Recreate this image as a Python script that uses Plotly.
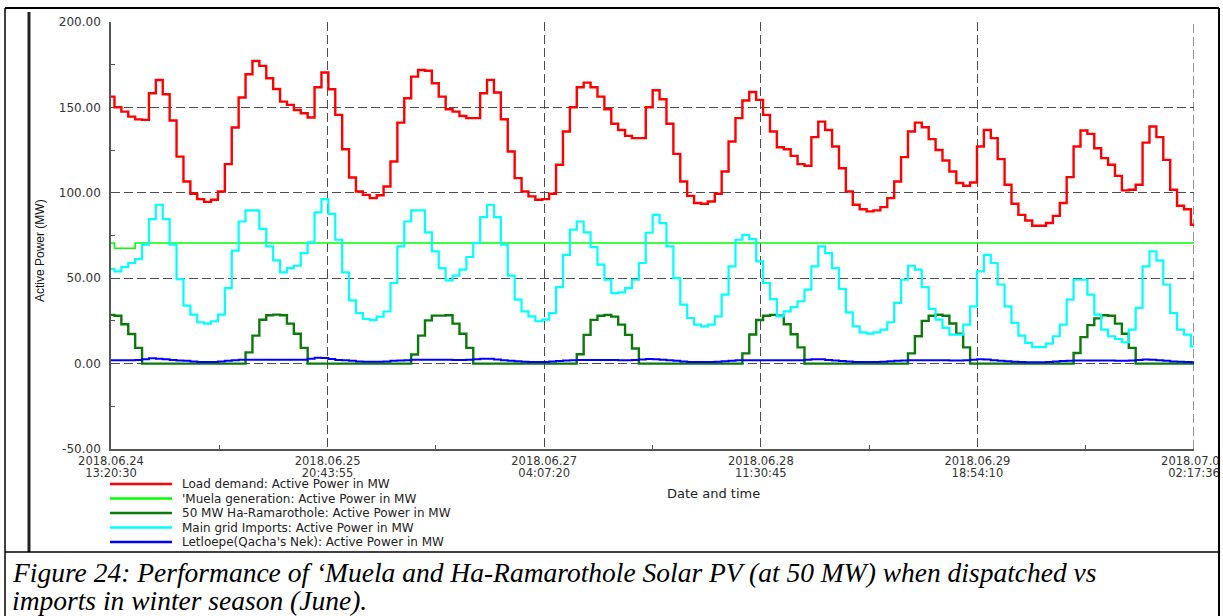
import pandas as pd
import plotly.graph_objects as go

# ---------------------------------------------------------------
# Hourly simulation results, first sample at 2018-06-24 13:20:30
# (one row per day of 24 hourly samples)
# ---------------------------------------------------------------
load_demand = [
    156.3, 150.1, 147.5, 144.6, 143.0, 142.7, 158.3, 166.0, 157.7, 142.3, 121.2, 106.6,
    99.4, 96.3, 94.7, 95.9, 100.8, 116.8, 138.2, 155.8, 169.4, 177.2, 174.3, 167.1,
    160.8, 153.4, 151.5, 148.5, 146.6, 144.1, 161.8, 170.4, 160.6, 145.6, 125.5, 109.0,
    100.8, 98.8, 96.9, 98.6, 103.7, 118.3, 141.1, 155.4, 168.0, 171.9, 171.5, 164.1,
    156.3, 148.9, 147.5, 145.0, 143.7, 143.7, 158.3, 166.1, 158.7, 143.1, 124.2, 108.6,
    100.8, 97.9, 95.9, 96.3, 99.4, 116.4, 135.9, 150.1, 161.8, 164.5, 161.8, 156.3,
    148.9, 140.4, 136.8, 133.3, 132.0, 132.0, 150.1, 160.0, 154.8, 140.4, 122.8, 106.6,
    98.2, 94.0, 93.6, 94.9, 99.4, 112.5, 130.0, 143.7, 154.0, 159.0, 154.4, 145.6,
    135.9, 126.7, 125.5, 121.6, 116.8, 115.8, 132.6, 141.7, 136.8, 127.1, 114.4, 100.8,
    93.0, 90.4, 89.1, 89.7, 91.6, 96.9, 106.6, 120.9, 135.9, 141.1, 138.4, 131.4,
    125.1, 118.9, 112.5, 105.7, 104.1, 106.0, 127.1, 136.8, 132.0, 119.7, 104.7, 93.6,
    87.1, 83.8, 80.7, 80.7, 82.3, 86.5, 94.0, 109.2, 127.1, 136.5, 134.5, 126.1,
    120.3, 116.4, 109.9, 101.4, 101.8, 104.7, 129.4, 138.8, 132.6, 119.3, 101.8, 92.4,
    90.4, 81.3,
]

muela_generation = [
    70.6, 67.5, 67.5, 67.5, 70.6, 70.6, 70.6, 70.6, 70.6, 70.6, 70.6, 70.6,
    70.6, 70.6, 70.6, 70.6, 70.6, 70.6, 70.6, 70.6, 70.6, 70.6, 70.6, 70.6,
    70.6, 70.6, 70.6, 70.6, 70.6, 70.6, 70.6, 70.6, 70.6, 70.6, 70.6, 70.6,
    70.6, 70.6, 70.6, 70.6, 70.6, 70.6, 70.6, 70.6, 70.6, 70.6, 70.6, 70.6,
    70.6, 70.6, 70.6, 70.6, 70.6, 70.6, 70.6, 70.6, 70.6, 70.6, 70.6, 70.6,
    70.6, 70.6, 70.6, 70.6, 70.6, 70.6, 70.6, 70.6, 70.6, 70.6, 70.6, 70.6,
    70.6, 70.6, 70.6, 70.6, 70.6, 70.6, 70.6, 70.6, 70.6, 70.6, 70.6, 70.6,
    70.6, 70.6, 70.6, 70.6, 70.6, 70.6, 70.6, 70.6, 70.6, 70.6, 70.6, 70.6,
    70.6, 70.6, 70.6, 70.6, 70.6, 70.6, 70.6, 70.6, 70.6, 70.6, 70.6, 70.6,
    70.6, 70.6, 70.6, 70.6, 70.6, 70.6, 70.6, 70.6, 70.6, 70.6, 70.6, 70.6,
    70.6, 70.6, 70.6, 70.6, 70.6, 70.6, 70.6, 70.6, 70.6, 70.6, 70.6, 70.6,
    70.6, 70.6, 70.6, 70.6, 70.6, 70.6, 70.6, 70.6, 70.6, 70.6, 70.6, 70.6,
    70.6, 70.6, 70.6, 70.6, 70.6, 70.6, 70.6, 70.6, 70.6, 70.6, 70.6, 70.6,
    70.6, 70.6,
]

ha_ramarothole_pv = [
    28.5, 28.0, 23.0, 17.3, 9.2, 0, 0, 0, 0, 0, 0, 0,
    0, 0, 0, 0, 0, 0, 0, 0, 6.6, 16.4, 25.7, 28.3,
    28.7, 28.3, 23.4, 17.5, 9.2, 0, 0, 0, 0, 0, 0, 0,
    0, 0, 0, 0, 0, 0, 0, 0, 5.3, 16.4, 25.3, 28.1,
    28.1, 28.3, 23.4, 17.5, 9.2, 0, 0, 0, 0, 0, 0, 0,
    0, 0, 0, 0, 0, 0, 0, 0, 5.5, 16.8, 25.6, 28.0,
    28.5, 27.5, 22.8, 16.8, 8.8, 0, 0, 0, 0, 0, 0, 0,
    0, 0, 0, 0, 0, 0, 0, 0, 6.0, 17.0, 25.5, 28.0,
    28.5, 28.0, 23.0, 17.2, 9.5, 0, 0, 0, 0, 0, 0, 0,
    0, 0, 0, 0, 0, 0, 0, 0, 6.0, 16.0, 25.0, 28.0,
    28.6, 28.0, 23.5, 17.5, 9.5, 0, 0, 0, 0, 0, 0, 0,
    0, 0, 0, 0, 0, 0, 0, 0, 6.2, 15.5, 22.5, 26.5,
    28.3, 28.0, 23.4, 17.5, 9.2, 0, 0, 0, 0, 0, 0, 0,
    0, 0,
]

main_grid_imports = [
    55.4, 54.0, 56.5, 58.9, 61.2, 69.6, 84.6, 93.0, 84.6, 69.6, 49.5, 33.9,
    28.7, 24.2, 23.4, 24.8, 28.7, 44.2, 66.1, 83.2, 89.7, 89.7, 78.9, 68.6,
    60.4, 53.4, 55.9, 57.3, 64.7, 71.0, 88.5, 96.3, 87.7, 72.5, 53.4, 37.0,
    29.6, 26.1, 25.5, 27.5, 30.5, 47.2, 68.6, 83.2, 89.7, 89.7, 76.8, 65.7,
    55.9, 48.7, 51.5, 55.0, 62.4, 70.6, 85.8, 93.0, 85.8, 69.6, 51.5, 37.4,
    30.6, 27.7, 24.8, 25.7, 29.6, 44.8, 63.7, 78.4, 83.2, 76.8, 68.2, 57.9,
    49.1, 41.3, 41.7, 44.2, 49.1, 58.9, 76.6, 87.1, 82.3, 68.6, 50.1, 34.5,
    26.7, 22.8, 21.8, 22.8, 27.7, 40.4, 56.9, 72.5, 75.4, 72.9, 59.8, 47.2,
    37.8, 27.7, 30.6, 33.1, 36.5, 43.3, 56.9, 68.6, 64.7, 55.9, 43.7, 30.0,
    21.8, 18.3, 17.5, 18.3, 19.9, 24.2, 35.5, 49.1, 57.3, 55.0, 44.8, 32.0,
    25.7, 20.9, 17.0, 17.0, 22.8, 33.5, 54.0, 63.7, 58.9, 46.3, 33.5, 23.8,
    16.4, 12.1, 9.7, 9.7, 11.7, 16.0, 22.8, 37.4, 49.1, 49.1, 40.4, 28.7,
    19.9, 16.0, 14.4, 12.5, 19.9, 32.6, 56.9, 65.7, 60.4, 46.3, 29.6, 19.9,
    17.0, 10.0,
]

letloepe = [
    1.9, 1.9, 1.9, 2.0, 2.1, 2.6, 3.1, 2.9, 2.5, 2.1, 1.8, 1.6,
    1.2, 1.0, 1.0, 1.0, 1.3, 1.6, 1.9, 2.2, 2.3, 2.3, 2.3, 2.3,
    2.3, 2.3, 2.2, 2.2, 2.3, 2.8, 3.4, 3.3, 2.7, 2.1, 1.9, 1.6,
    1.2, 1.1, 1.1, 1.1, 1.3, 1.6, 1.8, 2.0, 2.2, 2.2, 2.2, 2.3,
    2.2, 2.2, 2.1, 2.1, 2.2, 2.5, 2.9, 2.8, 2.4, 2.0, 1.7, 1.4,
    1.1, 1.0, 1.0, 1.0, 1.2, 1.5, 1.8, 2.0, 2.1, 2.1, 2.1, 2.1,
    2.1, 2.1, 2.0, 2.0, 2.1, 2.4, 2.7, 2.6, 2.2, 1.9, 1.6, 1.3,
    1.0, 0.9, 0.9, 0.9, 1.1, 1.4, 1.7, 1.9, 2.0, 2.0, 2.0, 2.0,
    2.0, 2.0, 1.9, 1.9, 2.0, 2.3, 2.6, 2.5, 2.1, 1.8, 1.5, 1.2,
    1.0, 0.9, 0.9, 0.9, 1.1, 1.4, 1.6, 1.8, 1.9, 1.9, 1.9, 1.9,
    1.9, 1.9, 1.8, 1.8, 1.9, 2.2, 2.5, 2.4, 2.0, 1.7, 1.4, 1.1,
    0.9, 0.8, 0.8, 0.8, 1.0, 1.3, 1.5, 1.7, 1.8, 1.8, 1.8, 1.8,
    1.8, 1.8, 1.7, 1.7, 1.8, 2.1, 2.4, 2.3, 1.9, 1.6, 1.3, 1.1,
    0.9, 0.8,
]

series_names = [
    "Load demand: Active Power in MW",
    "'Muela generation: Active Power in MW",
    "50 MW Ha-Ramarothole: Active Power in MW",
    "Main grid Imports: Active Power in MW",
    "Letloepe(Qacha's Nek): Active Power in MW",
]

# x-axis ticks: date on the first label line, clock time on the second
tick_times = ["2018-06-24 13:20:30", "2018-06-25 20:43:55", "2018-06-27 04:07:20",
              "2018-06-28 11:30:45", "2018-06-29 18:54:10", "2018-07-01 02:17:35"]
tick_dates = ["2018.06.24", "2018.06.25", "2018.06.27", "2018.06.28", "2018.06.29", "2018.07.01"]
tick_clock = ["13:20:30", "20:43:55", "04:07:20", "11:30:45", "18:54:10", "02:17:36"]
y_ticks = [-50, 0, 50, 100, 150, 200]
y_minor = [-25, 25, 75, 125, 175]

# ---------------------------------------------------------------
times = pd.date_range(tick_times[0], periods=len(load_demand), freq="h")
tt = pd.to_datetime(tick_times)
x_minor = [(tt[i] + (tt[i + 1] - tt[i]) / 2).strftime("%Y-%m-%d %H:%M:%S")
           for i in range(len(tt) - 1)]
x_range = [tick_times[0], tick_times[-1]]

colors = ["#ff0000", "#00ff00", "#0b7a0b", "#00ffff", "#0000ff"]
widths = [2.4, 1.6, 2.4, 2.2, 2.0]
values = [load_demand, muela_generation, ha_ramarothole_pv, main_grid_imports, letloepe]

fig = go.Figure()
for name, vals, col, w in zip(series_names, values, colors, widths):
    fig.add_trace(go.Scatter(x=times, y=vals, mode="lines", name=name,
                             line=dict(color=col, width=w, shape="hvh"),
                             showlegend=False))
# empty companion trace so the second (clock time) label row is rendered
fig.add_trace(go.Scatter(x=[tick_times[0]], y=[None], xaxis="x2", mode="lines",
                         showlegend=False, hoverinfo="skip"))

W, H = 1223, 616
L, R, T, B = 111, 29, 22, 167
PW, PH = W - L - R, H - T - B


def px(x):
    return (x - L) / PW


def py(y):
    return (H - B - y) / PH


tick_font = dict(family="DejaVu Sans", size=11.5, color="#333333")
grid = dict(showgrid=True, gridcolor="#4d4d4d", gridwidth=1.2, griddash="9px,4px",
            zeroline=False, showline=True, linecolor="#555555", linewidth=1.6,
            ticks="", automargin=False,
            tickfont=dict(family="DejaVu Sans", size=12, color="#333333"))

fig.update_layout(
    width=W, height=H,
    margin=dict(l=L, r=R, t=T, b=B, autoexpand=False),
    paper_bgcolor="white", plot_bgcolor="white",
    showlegend=False,
    font=dict(family="DejaVu Sans", size=12, color="#222222"),
    xaxis=dict(type="date", range=x_range,
               tickmode="array", tickvals=tick_times, ticktext=tick_dates, tickangle=0,
               ticklabeloverflow="allow",
               minor=dict(tickmode="array", tickvals=x_minor, ticks="inside", ticklen=4,
                          tickcolor="#555555", showgrid=False),
               **{**grid, "tickfont": tick_font}),
    xaxis2=dict(type="date", range=x_range, overlaying="x", anchor="y", side="bottom",
                tickmode="array", tickvals=tick_times, ticktext=tick_clock, tickangle=0,
                ticklabeloverflow="allow", ticklabelstandoff=15, automargin=False,
                showgrid=False, showline=False, zeroline=False, ticks="",
                tickfont=tick_font),
    yaxis=dict(range=[-50, 200], tickmode="array", tickvals=y_ticks,
               ticktext=[f"{v:.2f}" for v in y_ticks], ticklabelstandoff=6,
               minor=dict(tickmode="array", tickvals=y_minor, ticks="inside", ticklen=4,
                          tickcolor="#555555", showgrid=False),
               **grid),
)

shapes = []
annotations = []

# dashed grid line on the right-hand edge (last major x tick)
shapes.append(dict(type="line", xref="x", yref="paper", x0=tick_times[-1], x1=tick_times[-1],
                   y0=0, y1=1, line=dict(color="#4d4d4d", width=1.2, dash="9px,4px"),
                   layer="below"))

# legend drawn under the x axis
legend_rows = [484, 498.5, 513, 527.5, 542]
for name, col, yrow in zip(series_names, colors, legend_rows):
    shapes.append(dict(type="line", xref="paper", yref="paper",
                       x0=px(110), x1=px(172), y0=py(yrow), y1=py(yrow),
                       line=dict(color=col, width=2.5)))
    annotations.append(dict(text=name, xref="paper", yref="paper", x=px(180), y=py(yrow),
                            xanchor="left", yanchor="middle", showarrow=False,
                            font=dict(family="DejaVu Sans", size=12, color="#222222")))

annotations.append(dict(text="Date and time", xref="paper", yref="paper",
                        x=px(713), y=py(494), xanchor="center", yanchor="middle",
                        showarrow=False,
                        font=dict(family="DejaVu Sans", size=13, color="#222222")))

# frame lines around chart and caption
shapes += [
    dict(type="rect", xref="paper", yref="paper", x0=px(1220), x1=px(1240),
         y0=py(0), y1=py(640), line=dict(width=0), fillcolor="white", layer="above"),
    dict(type="line", xref="paper", yref="paper", x0=px(29), x1=px(29),
         y0=py(12), y1=py(552), line=dict(color="#222222", width=3)),
    dict(type="line", xref="paper", yref="paper", x0=px(5), x1=px(1219),
         y0=py(8), y1=py(8), line=dict(color="black", width=2)),
    dict(type="line", xref="paper", yref="paper", x0=px(5), x1=px(5),
         y0=py(8), y1=py(620), line=dict(color="black", width=1.5)),
    dict(type="line", xref="paper", yref="paper", x0=px(1219), x1=px(1219),
         y0=py(8), y1=py(620), line=dict(color="black", width=2)),
    dict(type="line", xref="paper", yref="paper", x0=px(5), x1=px(1219),
         y0=py(552), y1=py(552), line=dict(color="black", width=1.5)),
]

annotations.append(dict(text="Active Power (MW)", xref="paper", yref="paper",
                        x=px(40), y=py(251), textangle=-90, xanchor="center",
                        yanchor="middle", showarrow=False, bgcolor="white",
                        font=dict(family="Liberation Sans", size=12, color="#111111")))

caption_lines = [
    "Figure 24: Performance of \u2018Muela and Ha-Ramarothole Solar PV (at 50 MW) when dispatched vs",
    "imports in winter season (June).",
]
for line, yc in zip(caption_lines, [572, 600]):
    annotations.append(dict(text=f"<i>{line}</i>", xref="paper", yref="paper",
                            x=px(10), y=py(yc), xanchor="left", yanchor="middle",
                            showarrow=False,
                            font=dict(family="Liberation Serif", size=27.5, color="black")))

fig.update_layout(shapes=shapes, annotations=annotations)
fig.write_html("out.html")
